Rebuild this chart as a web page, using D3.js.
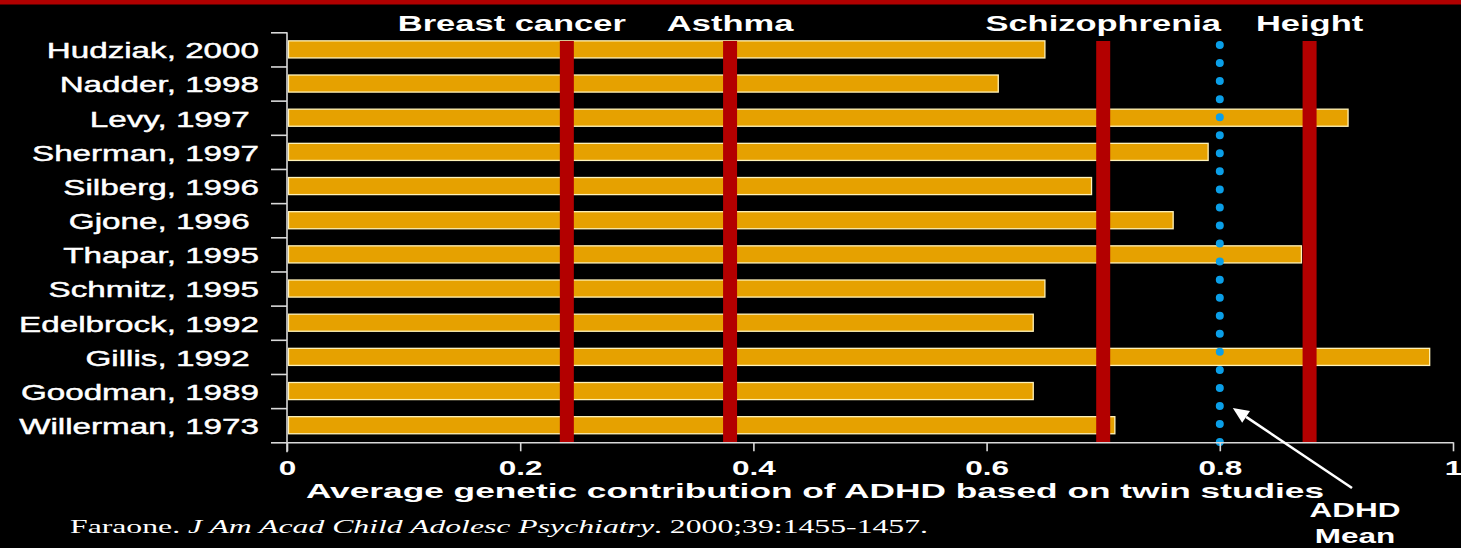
<!DOCTYPE html>
<html>
<head>
<meta charset="utf-8">
<script src="https://cdn.jsdelivr.net/npm/d3@7"></script>
<style>
  html, body { margin: 0; padding: 0; background: #000; }
  svg { display: block; }
  text { white-space: pre; }
</style>
</head>
<body>
<svg id="chart" width="1461" height="548"></svg>
<script>
// Twin-study heritability estimates for ADHD
const studies = [
  "Hudziak, 2000", "Nadder, 1998", "Levy, 1997 ", "Sherman, 1997",
  "Silberg, 1996", "Gjone, 1996 ", "Thapar, 1995", "Schmitz, 1995",
  "Edelbrock, 1992", "Gillis, 1992 ", "Goodman, 1989", "Willerman, 1973"
];
const heritability = [0.65, 0.61, 0.91, 0.79, 0.69, 0.76, 0.87, 0.65, 0.64, 0.98, 0.64, 0.71];

// Reference traits for comparison
const traits = ["Breast cancer", "Asthma", "Schizophrenia", "Height"];
const traitValues = [0.24, 0.38, 0.70, 0.877];
const traitLabelShift = [-55, 0, 0, 0];

const adhdMean = 0.80;

const xTicks = [0, 0.2, 0.4, 0.6, 0.8, 1];
const xTickLabels = ["0", "0.2", "0.4", "0.6", "0.8", "1"];

const axisTitle = "Average genetic contribution of ADHD based on twin studies";
const citeAuthor = "Faraone. ";
const citeJournal = "J Am Acad Child Adolesc Psychiatry";
const citeRest = ". 2000;39:1455-1457.";

// Layout
const W = 1461, H = 548;
const plot = { left: 287, right: 1453, top: 32.3, bottom: 442.3 };
const STRETCH = 1.5;               // wide lettering
const SANS = "'Liberation Sans', Arial, sans-serif";
const SERIF = "'Liberation Serif', 'Times New Roman', serif";

const svg = d3.select("#chart");

svg.append("rect").attr("width", W).attr("height", H).attr("fill", "#000");
// top rule
svg.append("rect").attr("x", 0).attr("y", 0).attr("width", W).attr("height", 4).attr("fill", "#b00000");
svg.append("rect").attr("x", 0).attr("y", 4).attr("width", W).attr("height", 1).attr("fill", "#5a0000");

const x = d3.scaleLinear().domain([0, 1]).range([plot.left, plot.right]);
const y = d3.scaleBand().domain(studies).range([plot.top, plot.bottom])
  .paddingInner(0.5).paddingOuter(0.25);
const yIdx = d3.scaleLinear().domain([0, studies.length]).range([plot.top, plot.bottom]);

// bars
svg.append("g").selectAll("rect")
  .data(studies)
  .join("rect")
  .attr("x", x(0) + 1.5)
  .attr("y", d => y(d))
  .attr("width", (d, i) => x(heritability[i]) - x(0) - 1.5)
  .attr("height", y.bandwidth())
  .attr("fill", "#e6a100")
  .attr("stroke", "#fff2b8")
  .attr("stroke-width", 1.3);

// comparison traits
const tg = svg.append("g");
tg.selectAll("rect")
  .data(traitValues)
  .join("rect")
  .attr("x", d => x(d) - 7)
  .attr("y", 41)
  .attr("width", 14)
  .attr("height", plot.bottom - 41)
  .attr("fill", "#b30000");

tg.selectAll("text")
  .data(traits)
  .join("text")
  .attr("transform", (d, i) => `translate(${x(traitValues[i]) + traitLabelShift[i]},31) scale(${STRETCH},1)`)
  .attr("text-anchor", "middle")
  .attr("font-family", SANS)
  .attr("font-weight", "bold")
  .attr("font-size", 23)
  .attr("fill", "#fff")
  .text(d => d);

// ADHD mean dotted line
svg.append("line")
  .attr("x1", x(adhdMean)).attr("x2", x(adhdMean))
  .attr("y1", 45).attr("y2", plot.bottom)
  .attr("stroke", "#0a9fe8")
  .attr("stroke-width", 8)
  .attr("stroke-linecap", "round")
  .attr("stroke-dasharray", "0 18.05");

// x axis
const xAxis = svg.append("g")
  .attr("transform", `translate(0,${plot.bottom})`)
  .call(d3.axisBottom(x).tickValues(xTicks).tickFormat((d, i) => xTickLabels[i]).tickSize(9).tickSizeOuter(0));
xAxis.select(".domain").attr("stroke", "#d9d9d9").attr("stroke-width", 1.6);
xAxis.selectAll(".tick line").attr("stroke", "#d9d9d9").attr("stroke-width", 1.6);
xAxis.selectAll(".tick text")
  .attr("y", 0).attr("dy", 0)
  .attr("transform", `translate(0,33) scale(${STRETCH},1)`)
  .attr("font-family", SANS)
  .attr("font-weight", "bold")
  .attr("font-size", 21)
  .attr("fill", "#fff");

// y axis with ticks between categories
const yAxis = svg.append("g")
  .attr("transform", `translate(${plot.left},0)`)
  .call(d3.axisLeft(yIdx).ticks(studies.length).tickFormat("").tickSize(16).tickSizeOuter(0));
yAxis.select(".domain").remove();
yAxis.selectAll(".tick line").attr("stroke", "#d9d9d9").attr("stroke-width", 1.6);
svg.append("line")
  .attr("x1", plot.left).attr("x2", plot.left)
  .attr("y1", plot.top).attr("y2", plot.bottom + 10)
  .attr("stroke", "#d9d9d9").attr("stroke-width", 1.6);

// category labels
svg.append("g").selectAll("text")
  .data(studies)
  .join("text")
  .attr("transform", d => `translate(259,${y(d) + y.bandwidth() / 2 + 1}) scale(1.51,1)`)
  .attr("dy", "0.36em")
  .attr("text-anchor", "end")
  .attr("font-family", SANS)
  .attr("font-size", 22)
  .attr("fill", "#fff")
  .attr("stroke", "#fff")
  .attr("stroke-width", 0.45)
  .text(d => d);

// axis title
svg.append("text")
  .attr("transform", `translate(815,498) scale(1.68,1)`)
  .attr("text-anchor", "middle")
  .attr("font-family", SANS)
  .attr("font-weight", "bold")
  .attr("font-size", 21)
  .attr("fill", "#fff")
  .text(axisTitle);

// ADHD mean callout
const cg = svg.append("g");
cg.selectAll("text")
  .data(["ADHD", "Mean"])
  .join("text")
  .attr("transform", (d, i) => `translate(1355,${517 + i * 26}) scale(${STRETCH},1)`)
  .attr("text-anchor", "middle")
  .attr("font-family", SANS)
  .attr("font-weight", "bold")
  .attr("font-size", 21)
  .attr("fill", "#fff")
  .text(d => d);

const tail = [1352, 488], tip = [x(adhdMean) + 13, 408];
const ang = Math.atan2(tip[1] - tail[1], tip[0] - tail[0]);
const headLen = 16, headW = 7;
const base = [tip[0] - headLen * Math.cos(ang), tip[1] - headLen * Math.sin(ang)];
cg.append("line")
  .attr("x1", tail[0]).attr("y1", tail[1])
  .attr("x2", base[0]).attr("y2", base[1])
  .attr("stroke", "#fff").attr("stroke-width", 2.6);
cg.append("path")
  .attr("d", d3.line()([
    tip,
    [base[0] + headW * Math.sin(ang), base[1] - headW * Math.cos(ang)],
    [base[0] - headW * Math.sin(ang), base[1] + headW * Math.cos(ang)]
  ]) + "Z")
  .attr("fill", "#fff");

// citation
const cite = svg.append("text")
  .attr("transform", `translate(70,533) scale(1.67,1)`)
  .attr("font-family", SERIF)
  .attr("font-size", 19)
  .attr("fill", "#fff");
cite.append("tspan").text(citeAuthor);
cite.append("tspan").attr("font-style", "italic").text(citeJournal);
cite.append("tspan").text(citeRest);
</script>
</body>
</html>
